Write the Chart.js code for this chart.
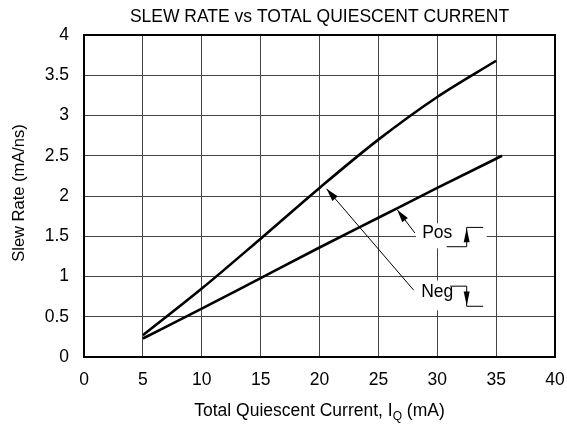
<!DOCTYPE html>
<html lang="en">
  <head>
    <meta charset="UTF-8" />
    <title>Slew Rate vs Total Quiescent Current</title>
    <script src="https://cdn.jsdelivr.net/npm/chart.js"></script>
    <style>
      html, body { margin: 0; padding: 0; background: #fff; }
      #wrap { width: 567px; height: 428px; }
    </style>
  </head>
  <body>
    <div id="wrap"><canvas id="slewChart" width="567" height="428"></canvas></div>

    <script>
      // quiescent current (mA) and slew rate (mA/ns)
      const negCurrent = [5, 10, 15, 20, 25, 30, 35];
      const negRate = [0.27, 0.85, 1.47, 2.1, 2.7, 3.23, 3.68];
      const posCurrent = [5, 10, 15, 20, 25, 30, 35.5];
      const posRate = [0.23, 0.6, 0.98, 1.36, 1.73, 2.1, 2.5];

      const xTicks = ["0", "5", "10", "15", "20", "25", "30", "35", "40"];
      const yTicks = ["0", "0.5", "1", "1.5", "2", "2.5", "3", "3.5", "4"];

      const FONT = "'Liberation Sans', Arial, sans-serif";
      const SIZE = 17.5;

      function arrow(ctx, x1, y1, x2, y2, len, wid) {
        const a = Math.atan2(y2 - y1, x2 - x1);
        ctx.beginPath();
        ctx.moveTo(x2, y2);
        ctx.lineTo(x2 - len * Math.cos(a) + wid * Math.sin(a), y2 - len * Math.sin(a) - wid * Math.cos(a));
        ctx.lineTo(x2 - len * Math.cos(a) - wid * Math.sin(a), y2 - len * Math.sin(a) + wid * Math.cos(a));
        ctx.closePath();
        ctx.fill();
      }

      // titles, frame and the Pos / Neg callouts
      const decor = {
        id: "decor",
        afterDraw(chart) {
          const { ctx, chartArea: a, scales } = chart;
          const X = (v) => scales.x.getPixelForValue(v);
          const Y = (v) => scales.y.getPixelForValue(v);
          const cx = (a.left + a.right) / 2;
          ctx.save();
          ctx.fillStyle = "#000";
          ctx.strokeStyle = "#000";

          ctx.font = SIZE + "px " + FONT;
          ctx.textAlign = "center";
          ctx.textBaseline = "middle";
          ctx.fillText("SLEW RATE vs TOTAL QUIESCENT CURRENT", cx, 17);

          // x axis title with subscript
          const pre = "Total Quiescent Current, I";
          const post = " (mA)";
          ctx.font = SIZE + "px " + FONT;
          const w1 = ctx.measureText(pre).width;
          const w3 = ctx.measureText(post).width;
          ctx.font = "12px " + FONT;
          const w2 = ctx.measureText("Q").width;
          const sx = cx - (w1 + w2 + w3) / 2;
          ctx.textAlign = "left";
          ctx.font = SIZE + "px " + FONT;
          ctx.fillText(pre, sx, 411);
          ctx.font = "12px " + FONT;
          ctx.fillText("Q", sx + w1, 417);
          ctx.font = SIZE + "px " + FONT;
          ctx.fillText(post, sx + w1 + w2, 411);

          // y axis title
          ctx.save();
          ctx.translate(19, 193);
          ctx.rotate(-Math.PI / 2);
          ctx.textAlign = "center";
          ctx.font = "16.5px " + FONT;
          ctx.fillText("Slew Rate (mA/ns)", 0, 0);
          ctx.restore();

          // frame
          ctx.lineWidth = 2;
          ctx.strokeRect(a.left, a.top, a.right - a.left, a.bottom - a.top);

          // label boxes
          ctx.fillStyle = "#fff";
          ctx.fillRect(X(28.2), Y(1.66), X(34.2) - X(28.2), Y(1.35) - Y(1.66));
          ctx.fillRect(X(28.2), Y(0.95), X(34.2) - X(28.2), Y(0.58) - Y(0.95));
          ctx.fillStyle = "#000";

          ctx.font = SIZE + "px " + FONT;
          ctx.textAlign = "center";
          ctx.fillText("Pos", X(30), Y(1.54));
          ctx.fillText("Neg", X(30), Y(0.8));

          // leader arrows
          ctx.lineWidth = 1;
          ctx.beginPath();
          ctx.moveTo(X(28.1), Y(1.54));
          ctx.lineTo(X(26.6), Y(1.83));
          ctx.moveTo(X(28.0), Y(0.83));
          ctx.lineTo(X(20.6), Y(2.09));
          ctx.stroke();
          arrow(ctx, X(28.1), Y(1.54), X(26.6), Y(1.83), 13, 3.5);
          arrow(ctx, X(28.0), Y(0.83), X(20.6), Y(2.09), 13, 3.5);

          // step symbols
          ctx.beginPath();
          ctx.moveTo(X(30.8), Y(1.37));
          ctx.lineTo(X(32.5), Y(1.37));
          ctx.lineTo(X(32.5), Y(1.61));
          ctx.lineTo(X(33.9), Y(1.61));
          ctx.moveTo(X(31.1), Y(0.88));
          ctx.lineTo(X(32.5), Y(0.88));
          ctx.lineTo(X(32.5), Y(0.63));
          ctx.lineTo(X(33.9), Y(0.63));
          ctx.stroke();
          arrow(ctx, X(32.5), Y(1.4), X(32.5), Y(1.6), 14, 3);
          arrow(ctx, X(32.5), Y(0.85), X(32.5), Y(0.64), 14, 3);
          ctx.restore();
        },
      };

      new Chart(document.getElementById("slewChart"), {
        type: "line",
        data: {
          datasets: [
            {
              label: "Neg",
              data: negCurrent.map((x, i) => ({ x, y: negRate[i] })),
              borderColor: "#000",
              borderWidth: 2.6,
              pointRadius: 0,
              cubicInterpolationMode: "monotone",
            },
            {
              label: "Pos",
              data: posCurrent.map((x, i) => ({ x, y: posRate[i] })),
              borderColor: "#000",
              borderWidth: 2.6,
              pointRadius: 0,
              cubicInterpolationMode: "monotone",
            },
          ],
        },
        plugins: [decor],
        options: {
          responsive: false,
          animation: false,
          layout: { padding: { top: 35, right: 12, left: 0, bottom: 0 } },
          plugins: { legend: { display: false }, tooltip: { enabled: false } },
          scales: {
            x: {
              type: "linear",
              min: 0,
              max: 40,
              afterFit(s) {
                s.height = 71;
                s.paddingLeft = 0;
                s.paddingRight = 0;
              },
              afterBuildTicks(s) { s.ticks = xTicks.map((t) => ({ value: +t })); },
              ticks: {
                padding: 13,
                color: "#000",
                font: { family: FONT, size: SIZE },
                callback: (v, i) => xTicks[i],
              },
              grid: { color: "#444", lineWidth: 1, drawTicks: false },
              border: { display: false },
            },
            y: {
              min: 0,
              max: 4,
              afterFit(s) {
                s.width = 84;
                s.paddingTop = 0;
                s.paddingBottom = 0;
              },
              afterBuildTicks(s) { s.ticks = yTicks.map((t) => ({ value: +t })); },
              ticks: {
                padding: 15,
                color: "#000",
                font: { family: FONT, size: SIZE },
                callback: (v, i) => yTicks[i],
              },
              grid: { color: "#444", lineWidth: 1, drawTicks: false },
              border: { display: false },
            },
          },
        },
      });
    </script>
  </body>
</html>
